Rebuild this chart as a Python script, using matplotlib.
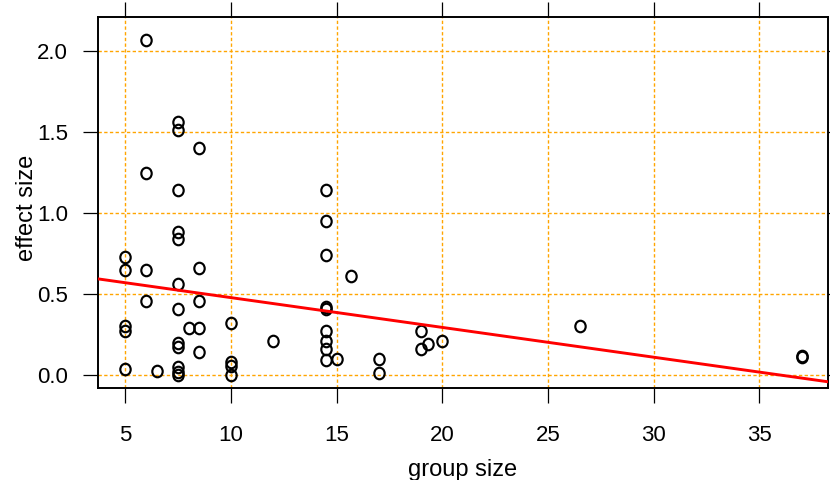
import numpy as np
import matplotlib
matplotlib.use('Agg')
import matplotlib.pyplot as plt
from matplotlib.path import Path
from matplotlib.transforms import Affine2D

plt.rcParams['font.family'] = ['Liberation Sans', 'DejaVu Sans']

# ===================== dados =====================
group_size = [6.0, 7.5, 7.5, 8.5, 6.0, 7.5, 7.5, 7.5, 5.0, 5.0, 6.0, 8.5, 7.5,
              6.0, 8.5, 7.5, 5.0, 5.0, 8.0, 8.5, 10.0, 7.5, 7.5, 8.5, 5.0, 6.5,
              7.5, 7.5, 7.5, 10.0, 10.0, 10.0, 12.0, 14.5, 14.5, 14.5, 15.67,
              14.5, 14.5, 14.5, 14.5, 14.5, 14.5, 15.0, 17.0, 17.0, 19.0, 19.0,
              19.33, 20.0, 26.5, 37.0, 37.0]
effect_size = [2.07, 1.56, 1.51, 1.40, 1.25, 1.14, 0.88, 0.84, 0.73, 0.65, 0.65,
               0.66, 0.56, 0.46, 0.46, 0.41, 0.30, 0.27, 0.29, 0.29, 0.32, 0.20,
               0.175, 0.14, 0.04, 0.025, 0.05, 0.02, 0.0, 0.08, 0.056, 0.0, 0.21,
               1.14, 0.95, 0.74, 0.61, 0.42, 0.41, 0.27, 0.21, 0.16, 0.09, 0.10,
               0.10, 0.01, 0.27, 0.16, 0.19, 0.21, 0.30, 0.11, 0.12]

# reta de regressão (intercepto, inclinação)
fit_coef = [0.662, -0.0184]

x_ticks = [5, 10, 15, 20, 25, 30, 35]
y_ticks = [0.0, 0.5, 1.0, 1.5, 2.0]

# ===================== figura =====================
fig = plt.figure(figsize=(8.3, 4.8), dpi=100)
ax = fig.add_axes([98 / 830, 1 - 388 / 480, 730 / 830, 371 / 480])

ax.set_xlim(3.72, 38.24)
ax.set_ylim(-0.08, 2.21)

# grade tracejada laranja
grid_style = dict(color='#FFA500', lw=1.0, ls=(0, (2.4, 1.7)), zorder=1)
for xv in x_ticks:
    ax.axvline(xv, **grid_style)
for yv in y_ticks:
    ax.axhline(yv, **grid_style)

# marcador em forma de "o" (levemente oval)
oval = Path.unit_circle().transformed(Affine2D().scale(0.9, 1.0))
ax.plot(group_size, effect_size, ls='none', marker=oval, ms=8.3,
        mfc='none', mec='black', mew=1.55, zorder=3)

xs = np.array(ax.get_xlim())
ax.plot(xs, fit_coef[0] + fit_coef[1] * xs, color='red', lw=2.1, zorder=4)

ax.set_xticks(x_ticks)
ax.set_yticks(y_ticks)
ax.set_yticklabels(['0.0', '0.5', '1.0', '1.5', '2.0'])
ax.tick_params(direction='out', length=10.8, width=0.9, labelsize=16,
               top=True, right=True, labeltop=False, labelright=False)
ax.tick_params(axis='x', pad=15.5)
ax.tick_params(axis='y', pad=10.8)
for s in ax.spines.values():
    s.set_linewidth(1.4)

# rótulos dos eixos
fig.text((98 + 828) / 2 / 830, 1 - 476 / 480, 'group size', fontsize=17,
         ha='center', va='baseline')
fig.text(33 / 830, 1 - 208 / 480, 'effect size', fontsize=17, rotation=90,
         rotation_mode='anchor', ha='center', va='baseline')

fig.savefig('out.png', dpi=100)
